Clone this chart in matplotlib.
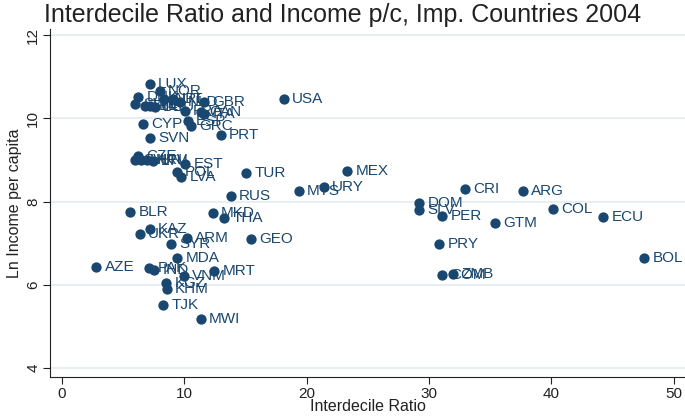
# -*- coding: utf-8 -*-
import matplotlib
matplotlib.use('Agg')
import matplotlib.pyplot as plt

# country codes, interdecile ratio (x) and log income per capita (y)
codes = ['LUX','NOR','DNK','SWE','FIN','BEL','DEU','AUT','IRL','NLD','FRA',
	'GBR','CAN','ITA','ESP','GRC','CYP','SVN','PRT','USA',
	'CZE','SVK','HUN','HRV','LTU','EST','POL','LVA','TUR','MEX','URY','MYS','RUS',
	'CRI','ARG','DOM','SLV','PER','GTM','COL','ECU','PRY','BOL','COM','ZMB',
	'BLR','MKD','THA','KAZ','UKR','ARM','GEO','SYR','MDA','AZE','PAK','IND',
	'VNM','MRT','KGZ','KHM','TJK','MWI']
ratio = [7.2,8.0,6.25,6.0,6.8,7.25,7.6,8.4,9.1,9.65,10.05,
	11.65,11.4,11.65,10.3,10.6,6.65,7.2,13.0,18.15,
	6.25,6.0,6.5,7.0,7.45,10.1,9.4,9.75,15.05,23.3,21.4,19.35,13.8,
	32.95,37.65,29.2,29.2,31.1,35.4,40.1,44.2,30.85,47.55,31.05,31.95,
	5.6,12.35,13.3,7.2,6.4,10.25,15.45,8.95,9.45,2.85,7.15,7.55,
	10.0,12.45,8.55,8.6,8.3,11.35]
ln_income = [10.84,10.67,10.51,10.35,10.31,10.31,10.28,10.47,10.47,10.39,10.19,
	10.39,10.15,10.10,9.93,9.83,9.87,9.54,9.61,10.47,
	9.10,9.00,9.01,9.00,8.98,8.91,8.71,8.59,8.69,8.73,8.34,8.25,8.13,
	8.31,8.25,7.97,7.79,7.65,7.49,7.83,7.63,6.98,6.64,6.23,6.25,
	7.75,7.73,7.61,7.35,7.21,7.12,7.09,6.97,6.63,6.43,6.40,6.36,
	6.20,6.32,6.03,5.89,5.52,5.18]

navy = '#1a476f'
dark = '#222222'
plt.rcParams['font.family'] = ['Liberation Sans', 'DejaVu Sans']

fig = plt.figure(figsize=(6.85, 4.16), dpi=100)
ax = fig.add_axes([0.073, 0.094, 0.927, 0.836])

ax.scatter(ratio, ln_income, s=55, color=navy, zorder=3, linewidths=0)
for c, x, y in zip(codes, ratio, ln_income):
	ax.annotate(c, (x, y), xytext=(6, 0), textcoords='offset points',
		va='center', ha='left', fontsize=11, color=navy, zorder=4)

ax.set_xlim(-0.94, 50.9)
ax.set_ylim(3.78, 12.15)
ax.set_xticks([0, 10, 20, 30, 40, 50])
ax.set_yticks([4, 6, 8, 10, 12])
ax.set_yticklabels(['4', '6', '8', '10', '12'], rotation=90, va='center')

# light horizontal grid only
ax.grid(axis='y', color='#e6eef1', linewidth=1.3, zorder=0)
ax.set_axisbelow(True)
for s in ('top', 'right'):
	ax.spines[s].set_visible(False)
ax.spines['left'].set_color(dark)
ax.spines['bottom'].set_color(dark)
ax.tick_params(colors=dark, labelsize=11, length=5, pad=2)

ax.set_xlabel('Interdecile Ratio', fontsize=11.5, color=dark, labelpad=-1)
ax.set_ylabel('Ln Income per capita', fontsize=11.5, color=dark, labelpad=3)
# title is centred on the whole figure, not the axes
ax.set_title('Interdecile Ratio and Income p/c, Imp. Countries 2004',
	fontsize=18, color=dark, pad=5, x=0.46)

fig.savefig('out.png', dpi=100)
